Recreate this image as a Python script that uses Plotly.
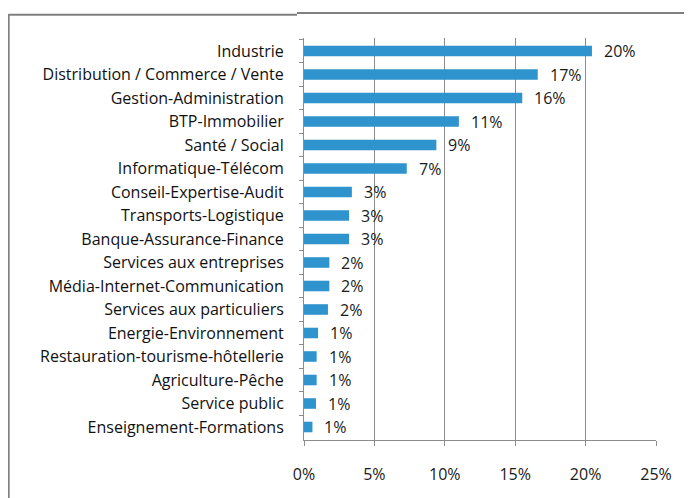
import plotly.graph_objects as go

# sectors, top to bottom as shown in the chart
sectors = [
    "Industrie",
    "Distribution / Commerce / Vente",
    "Gestion-Administration",
    "BTP-Immobilier",
    "Santé / Social",
    "Informatique-Télécom",
    "Conseil-Expertise-Audit",
    "Transports-Logistique",
    "Banque-Assurance-Finance",
    "Services aux entreprises",
    "Média-Internet-Communication",
    "Services aux particuliers",
    "Energie-Environnement",
    "Restauration-tourisme-hôtellerie",
    "Agriculture-Pêche",
    "Service public",
    "Enseignement-Formations",
]
shares = [20.45, 16.6, 15.5, 11.0, 9.4, 7.3, 3.4, 3.2, 3.2, 1.8, 1.8, 1.7,
          1.0, 0.9, 0.9, 0.85, 0.6]
share_labels = ["20%", "17%", "16%", "11%", "9%", "7%", "3%", "3%", "3%",
                "2%", "2%", "2%", "1%", "1%", "1%", "1%", "1%"]
x_ticks = [0, 5, 10, 15, 20, 25]

FONT = "'Open Sans', sans-serif"
GRID = "#8c8c8c"

fig = go.Figure(
    go.Bar(
        x=shares,
        y=sectors,
        orientation="h",
        marker=dict(color="#2f93cd", line=dict(width=0)),
        hoverinfo="skip",
    )
)

for s, v, lab in zip(sectors, shares, share_labels):
    fig.add_annotation(
        x=v, y=s, text=lab, showarrow=False,
        xanchor="left", xshift=10,
        font=dict(family=FONT, size=16, color="#1a1a1a"),
    )

# outer frame: left and top border lines
fig.add_shape(type="line", xref="paper", yref="paper",
              x0=-0.839, x1=-0.839, y0=1.06, y1=-0.2,
              line=dict(color="#808080", width=2))
fig.add_shape(type="line", xref="paper", yref="paper",
              x0=-0.839, x1=-0.02, y0=1.058, y1=1.058,
              line=dict(color="#808080", width=2))
fig.add_shape(type="line", xref="paper", yref="paper",
              x0=-0.02, x1=1.2, y0=1.062, y1=1.062,
              line=dict(color="#808080", width=2))

# the page body adds an 8px offset, so the figure is 8px smaller
fig.update_layout(
    width=684,
    height=490,
    margin=dict(l=296, r=36, t=30, b=58, autoexpand=False),
    paper_bgcolor="white",
    plot_bgcolor="white",
    bargap=0.55,
    showlegend=False,
    font=dict(family=FONT, size=16, color="#111"),
)
fig.update_xaxes(
    range=[0, 25],
    tickvals=x_ticks,
    ticktext=[f"{t}%" for t in x_ticks],
    showgrid=True, gridcolor=GRID, gridwidth=1,
    showline=True, linecolor=GRID, linewidth=1,
    ticks="outside", ticklen=5, tickcolor=GRID,
    ticklabelstandoff=15,
    zeroline=False, automargin=False,
    tickfont=dict(family=FONT, size=16, color="#1a1a1a"),
)
fig.update_yaxes(
    autorange="reversed",
    showline=True, linecolor=GRID, linewidth=1,
    ticks="outside", ticklen=4, tickcolor=GRID,
    tickson="boundaries",
    ticklabelstandoff=16,
    showgrid=False, automargin=False,
    tickfont=dict(family=FONT, size=16, color="#111"),
)

fig.write_html("out.html")
